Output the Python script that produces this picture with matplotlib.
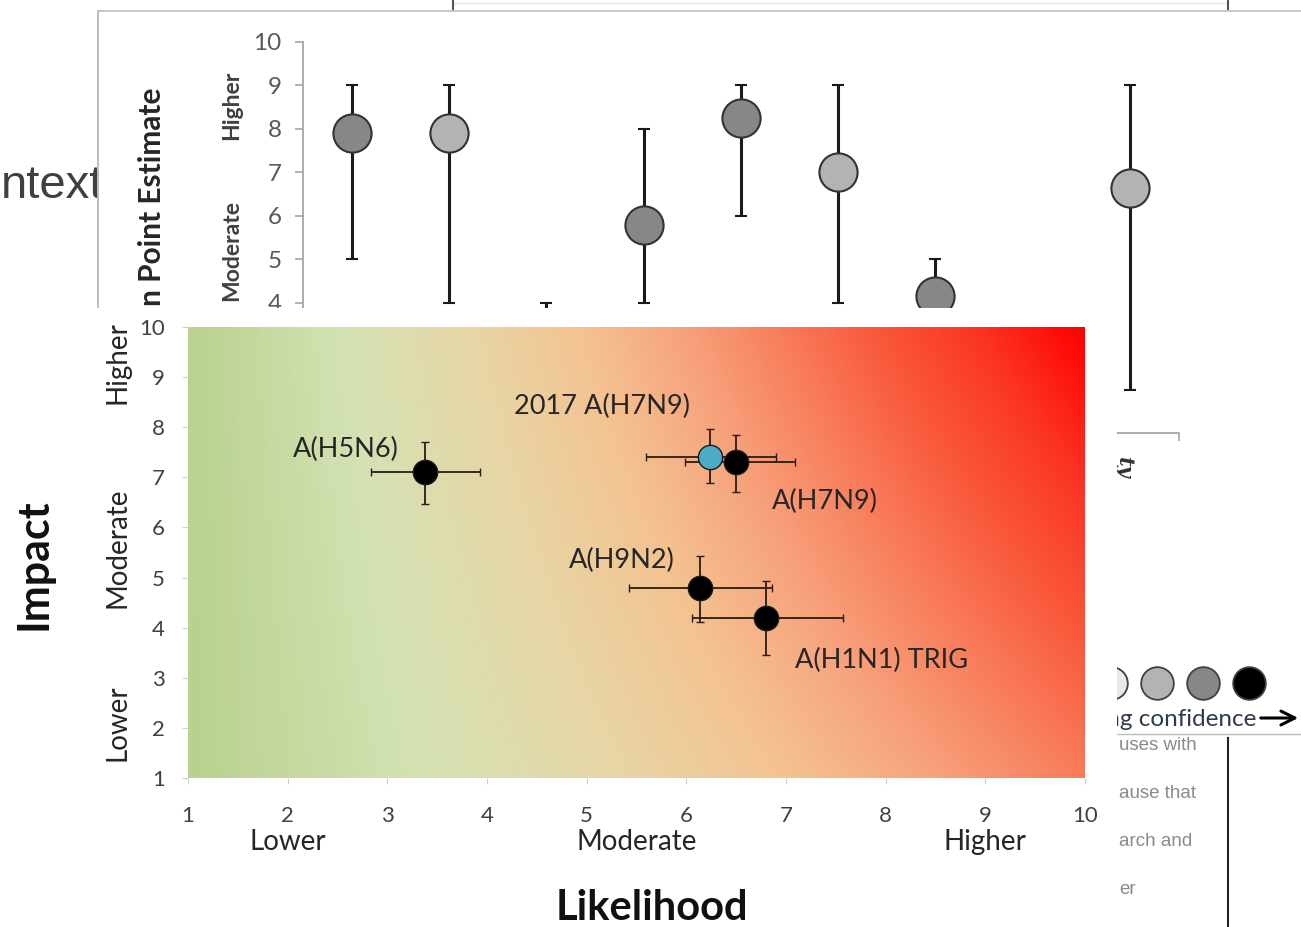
import numpy as np
import matplotlib.pyplot as plt
from matplotlib.colors import LinearSegmentedColormap
from matplotlib.patches import Rectangle
from matplotlib.transforms import blended_transform_factory

plt.rcParams['font.family'] = ['Lato', 'DejaVu Sans']

W, H = 1301, 927

# ---- background chart (mostly hidden behind the risk matrix) ----
back_pos = [1, 2, 3, 4, 5, 6, 7, 9]
back_mean = [7.9, 7.9, 3.0, 5.8, 8.25, 7.0, 4.15, 6.65]
back_low = [5, 4, 2, 4, 6, 4, 3, 2]
back_high = [9, 9, 4, 8, 9, 9, 5, 9]
back_conf = ['dark', 'light', 'light', 'dark', 'dark', 'light', 'dark', 'light']
back_yticks = list(range(1, 11))
conf_fill = {'light': '#b3b3b3', 'dark': '#878787'}

# confidence legend (right side)
legend_colors = ['#e8e8e8', '#b3b3b3', '#878787', '#000000']
side_text = ['uses with', 'ause that', 'arch and', 'er']

# ---- front chart: likelihood vs impact ----
viruses = ['A(H5N6)', '2017 A(H7N9)', 'A(H7N9)', 'A(H9N2)', 'A(H1N1) TRIG']
likelihood = [3.38, 6.24, 6.50, 6.14, 6.80]
like_lo = [2.84, 5.60, 5.99, 5.42, 6.06]
like_hi = [3.93, 6.90, 7.09, 6.86, 7.57]
impact = [7.11, 7.41, 7.31, 4.79, 4.19]
imp_lo = [6.47, 6.89, 6.71, 4.12, 3.45]
imp_hi = [7.71, 7.97, 7.85, 5.43, 4.93]
point_colors = ['black', '#4bacc6', 'black', 'black', 'black']
label_offsets = [(-79, 22), (-108, 50), (89, -40), (-78, 28), (115, -42)]  # pixels

ticks = list(range(1, 11))
levels = ['Lower', 'Moderate', 'Higher']
like_level_pos = [2.0, 5.5, 9.0]
impact_level_pos = [2.1, 5.6, 9.3]


def px_box(l, t, r, b):
    return [l / W, 1 - b / H, (r - l) / W, (b - t) / H]


fig = plt.figure(figsize=(W / 100, H / 100), dpi=100)

# page behind everything, in pixel coordinates
ax_bg = fig.add_axes([0, 0, 1, 1], zorder=0)
ax_bg.set_xlim(0, W)
ax_bg.set_ylim(H, 0)
ax_bg.axis('off')
ax_bg.text(1, 198, 'ntext', ha='left', va='baseline', fontsize=34,
           family='Liberation Sans', color='#404040', zorder=1)
ax_bg.add_patch(Rectangle((98, 11), W - 98, H, facecolor='white', edgecolor='none', zorder=2))
ax_bg.plot([98, W], [11, 11], color='#c4c4c4', lw=1.3, zorder=3)
ax_bg.plot([98, 98], [11, 320], color='#b8b8b8', lw=1.3, zorder=3)
ax_bg.plot([453, 1228], [3, 3], color='#e6e6e6', lw=1, zorder=3)
for xt in (453, 1228):
    ax_bg.plot([xt, xt], [0, 9], color='#555555', lw=1.5, zorder=3)

# only the upper part of the y label shows above the front panel
ax_bg.text(152, 306, 'n Point Estimate', rotation=90, ha='center', va='bottom',
           fontsize=21.5, fontweight='bold', color='#262626', zorder=3)
ax_bg.text(232, 105, 'Higher', rotation=90, ha='center', va='center',
           fontsize=16.5, fontweight='bold', color='#404040', zorder=3)
ax_bg.text(232, 250, 'Moderate', rotation=90, ha='center', va='center',
           fontsize=16.5, fontweight='bold', color='#404040', zorder=3)

# side panel fragments
for i, s in enumerate(side_text):
    ax_bg.text(1119, 745 + i * 48, s, ha='left', va='center', fontsize=13.5,
               family='Liberation Sans', color='#8a8a8a', zorder=3)
ax_bg.add_patch(Rectangle((1117, 650), W - 1117, 84, facecolor='white', edgecolor='none', zorder=3.5))
ax_bg.plot([1117, W], [734, 734], color='#bdbdbd', lw=1, zorder=4)
ax_bg.plot([1228, 1228], [738, H], color='#222222', lw=1.5, zorder=4)
for i, c in enumerate(legend_colors):
    ax_bg.plot(1111 + i * 46, 683, 'o', ms=23.5, mfc=c, mec='#404040', mew=1.3, zorder=4)
ax_bg.text(1256, 719, 'Increasing confidence', ha='right', va='center', fontsize=17.5,
           color='#2e3b4e', zorder=4)
ax_bg.annotate('', xy=(1301, 718), xytext=(1258, 718),
               arrowprops=dict(arrowstyle='->', lw=2.2, color='black', mutation_scale=25), zorder=4)
ax_bg.text(1124, 468, 'ty', rotation=-90, ha='center', va='center', fontsize=15,
           family='DejaVu Serif', style='italic', fontweight='bold', color='#333333', zorder=4)

# background error-bar chart
ax_b = fig.add_axes(px_box(303, 42, 1178.6, 433.5), zorder=1)
ax_b.set_facecolor('none')
ax_b.set_xlim(0.5, 9.5)
ax_b.set_ylim(1, 10)
for i in range(len(back_pos)):
    ax_b.errorbar(back_pos[i], back_mean[i],
                  yerr=[[back_mean[i] - back_low[i]], [back_high[i] - back_mean[i]]],
                  fmt='o', ms=27.5, mfc=conf_fill[back_conf[i]], mec='#333333', mew=1.5,
                  ecolor='#1a1a1a', elinewidth=2.2, capsize=4.5, capthick=3)
for s in ('top', 'right'):
    ax_b.spines[s].set_visible(False)
for s in ('left', 'bottom'):
    ax_b.spines[s].set_color('#a6a6a6')
    ax_b.spines[s].set_linewidth(1.3)
ax_b.set_yticks(back_yticks)
ax_b.set_xticks(np.arange(0.5, 10, 1.0))
ax_b.set_xticklabels([])
ax_b.tick_params(axis='both', length=5.5, color='#a6a6a6', width=1.2)
ax_b.tick_params(axis='y', labelsize=17.5, labelcolor='#595959', pad=10)
# hide tick labels that sit behind the front panel
for lab in ax_b.get_yticklabels():
    if lab.get_position()[1] < 4:
        lab.set_visible(False)

# white panel carrying the risk matrix
ax_p = fig.add_axes(px_box(0, 308, 1117, H), zorder=2)
ax_p.set_facecolor('white')
ax_p.set_xticks([])
ax_p.set_yticks([])
for s in ax_p.spines.values():
    s.set_visible(False)

# risk matrix
ax = fig.add_axes(px_box(188, 327, 1085, 778), zorder=3)
cmap = LinearSegmentedColormap.from_list('risk', [
    (0.00, '#b9d18e'), (0.17, '#d4e2b4'), (0.31, '#e7d6a6'), (0.44, '#f4c290'),
    (0.55, '#f7a27c'), (0.65, '#f8805e'), (0.76, '#f95a3c'), (0.88, '#fb3424'),
    (1.00, '#ff0000')])
gx, gy = np.meshgrid(np.linspace(0, 1, 400), np.linspace(0, 1, 200))
ax.imshow(gx * (0.66 + 0.34 * gy), extent=(1, 10, 1, 10), origin='lower', aspect='auto',
          cmap=cmap, vmin=0, vmax=1, interpolation='bilinear', zorder=0)

for i in range(len(viruses)):
    ax.errorbar(likelihood[i], impact[i],
                xerr=[[likelihood[i] - like_lo[i]], [like_hi[i] - likelihood[i]]],
                yerr=[[impact[i] - imp_lo[i]], [imp_hi[i] - impact[i]]],
                fmt='o', ms=17.5, mfc=point_colors[i], mec='#1a1a1a', mew=1,
                ecolor='#2a1c14', elinewidth=1.3, capsize=3, capthick=1.3, zorder=3)
    ax.annotate(viruses[i], (likelihood[i], impact[i]), xytext=label_offsets[i],
                textcoords='offset pixels', ha='center', va='center',
                fontsize=19.5, color='#262626', zorder=4)

ax.set_xlim(1, 10)
ax.set_ylim(1, 10)
ax.set_xticks(ticks)
ax.set_yticks(ticks)
for s in ax.spines.values():
    s.set_visible(False)
ax.tick_params(axis='both', length=4.5, color='#cfcfcf', labelsize=16, labelcolor='#404040')
ax.tick_params(axis='x', pad=16)
ax.tick_params(axis='y', pad=12)

bx = blended_transform_factory(ax.transData, ax.transAxes)
for lab, xv in zip(levels, like_level_pos):
    ax.text(xv, -0.142, lab, transform=bx, ha='center', va='center', fontsize=20, color='#262626')
by = blended_transform_factory(ax.transAxes, ax.transData)
for lab, yv in zip(levels, impact_level_pos):
    ax.text(-0.079, yv, lab, transform=by, rotation=90, ha='center', va='center',
            fontsize=20, color='#262626')

ax.text(0.517, -0.289, 'Likelihood', transform=ax.transAxes, ha='center', va='center',
        fontsize=30, fontweight='bold', color='#111111')
ax.text(-0.172, 0.475, 'Impact', transform=ax.transAxes, rotation=90, ha='center', va='center',
        fontsize=31, fontweight='bold', color='#111111')

fig.savefig('out.png', dpi=100)
